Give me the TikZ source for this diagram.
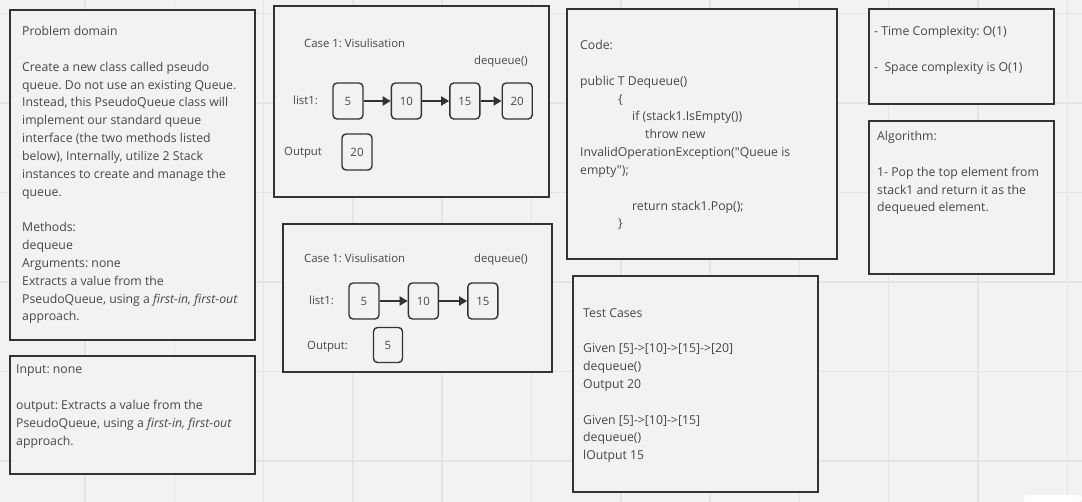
\documentclass[tikz,border=0pt]{standalone}
\usepackage{fontspec}
\setmainfont{Open Sans}[Ligatures=TeXOff]
\usetikzlibrary{arrows.meta,positioning}
\definecolor{board}{HTML}{F2F2F2}
\definecolor{gridln}{HTML}{E4E4E4}
\definecolor{frame}{HTML}{333333}
\definecolor{ink}{HTML}{474747}
\frenchspacing
\tikzset{
  panel/.style={draw=frame, line width=1.6bp, fill=board},
  txt/.style={anchor=north west, inner sep=0pt, align=left, text=ink, font=\fontsize{12.3}{17.9}\selectfont},
  cell/.style={draw=frame, line width=1.4bp, rounded corners=4bp, minimum width=30bp, minimum height=36bp, inner sep=0pt, text=ink, font=\fontsize{11.5}{13}\selectfont},
  link/.style={draw=frame, line width=2bp, -{Triangle[length=8bp,width=9bp]}},
  vis/.style={inner sep=0pt, text=ink, font=\fontsize{11.4}{13}\selectfont},
}

\begin{document}
\begin{tikzpicture}[x=1bp,y=-1bp]
\useasboundingbox (0,0) rectangle (1082,502);
\fill[board] (0,0) rectangle (1082,502);
\foreach \k in {-1,...,11}{
	\draw[gridln, line width=1.5bp] ({85+89.3*\k},0) -- ({85+89.3*\k},502);
}
\foreach \k in {0,...,5}{
	\draw[gridln, line width=1.5bp] (0,{13.5+89.5*\k}) -- (1082,{13.5+89.5*\k});
}
\fill[white] (1082,502) -- (1024,502) [rounded corners=4bp] -- (1024,495) -- (1082,495) -- cycle;

%% left column
\draw[panel] (10,10) rectangle (255,340);
\node[txt] (prob) at (22,26) {Problem domain\\ \mbox{}\\
Create a new class called pseudo\\
queue. Do not use an existing Queue.\\
Instead, this PseudoQueue class will\\
implement our standard queue\\
interface (the two methods listed\\
below), Internally, utilize 2 Stack\\
instances to create and manage the\\
queue.\\ \mbox{}\\
Methods:\\
dequeue\\
Arguments: none\\
Extracts a value from the\\
PseudoQueue, using a \textit{first-in, first-out}\\
approach.};
\draw[panel] (10,356) rectangle (255,474);
\node[txt] (io) at (16,365) {Input: none\\ \mbox{}\\
output: Extracts a value from the\\
PseudoQueue, using a \textit{first-in, first-out}\\
approach.};

%% case 1, four cells
\draw[panel] (274,6) rectangle (549,197);
\node[vis, anchor=base west] (titA) at (304,48) {Case 1: Visulisation};
\node[vis, anchor=base east] (opA) at (528,65) {dequeue()};
\node[vis, anchor=base west] (lstA) at (293,105) {list1:};
\node[vis, anchor=base west] (outA) at (284,156) {Output};
\node[cell] (a5) at (348,101) {5};
\node[cell, right=27bp of a5] (a10) {10};
\node[cell, right=27bp of a10] (a15) {15};
\node[cell, right=21bp of a15] (a20) {20};
\node[cell] (ares) at (357,152) {20};
\draw[link] (a5) -- (a10);
\draw[link] (a10) -- (a15);
\draw[link] (a15) -- (a20);

%% case 1, three cells
\draw[panel] (283,224) rectangle (552,372);
\node[vis, anchor=base west] (titB) at (304,263) {Case 1: Visulisation};
\node[vis, anchor=base east] (opB) at (528,263) {dequeue()};
\node[vis, anchor=base west] (lstB) at (309,305) {list1:};
\node[vis, anchor=base west] (outB) at (307,350) {Output:};
\node[cell] (b5) at (364,301) {5};
\node[cell, right=28bp of b5] (b10) {10};
\node[cell, right=28bp of b10] (b15) {15};
\node[cell, minimum width=29bp, minimum height=35bp] (bres) at (388,345) {5};
\draw[link] (b5) -- (b10);
\draw[link] (b10) -- (b15);

%% code and tests
\draw[panel] (567,9) rectangle (837,259);
\node[txt] (code) at (580,40) {Code:\\ \mbox{}\\
public T Dequeue()\\
\hspace*{38bp}\{\\
\hspace*{52bp}if (stack1.IsEmpty())\\
\hspace*{65bp}throw new\\
InvalidOperationException("Queue is\\
empty");\\ \mbox{}\\
\hspace*{52bp}return stack1.Pop();\\
\hspace*{38bp}\}};
\draw[panel] (573,276) rectangle (818,492);
\node[txt] (tests) at (583,308) {Test Cases\\ \mbox{}\\
Given [5]->[10]->[15]->[20]\\
dequeue()\\
Output 20\\ \mbox{}\\
Given [5]->[10]->[15]\\
dequeue()\\
lOutput 15};

%% right column
\draw[panel] (869,9) rectangle (1054,104);
\node[txt] (cplx) at (874,26) {- Time Complexity: O(1)\\ \mbox{}\\
-\ \ Space complexity is O(1)};
\draw[panel] (869,121) rectangle (1054,274);
\node[txt] (algo) at (877,131) {Algorithm:\\ \mbox{}\\
1- Pop the top element from\\
stack1 and return it as the\\
dequeued element.};
\end{tikzpicture}
\end{document}
